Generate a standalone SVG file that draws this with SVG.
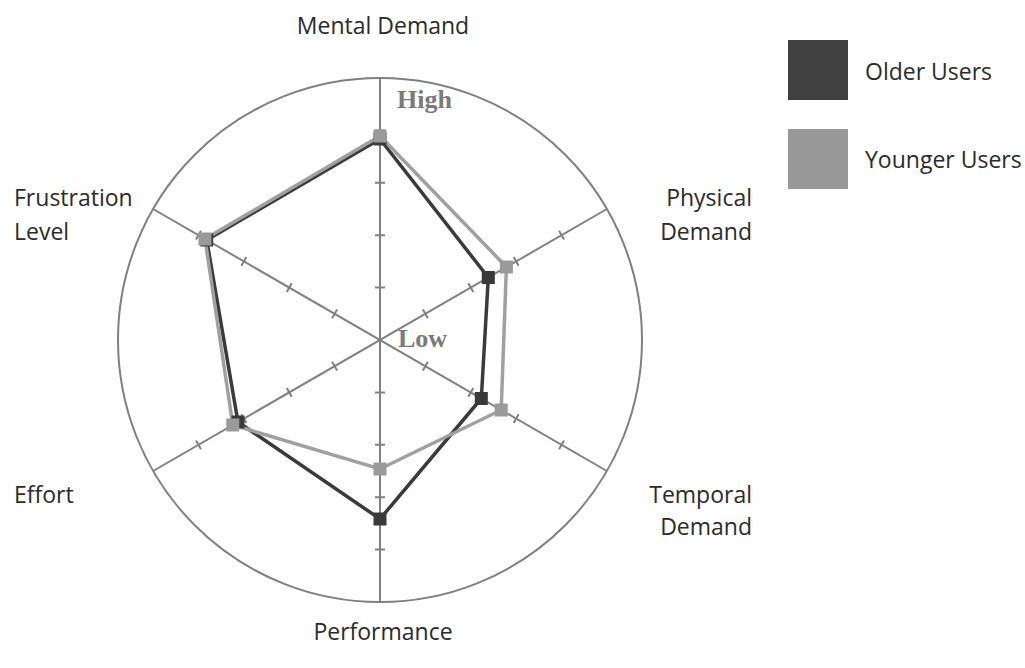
<svg xmlns="http://www.w3.org/2000/svg" xmlns:xlink="http://www.w3.org/1999/xlink" width="1025" height="668" viewBox="0 0 1025 668">
<style>
.lbl{font-family:"Open Sans","Liberation Sans",sans-serif;font-size:23px;fill:#2b2b2b}
.hl{font-family:"Liberation Serif",serif;font-weight:bold;font-size:26px;fill:#7a7a7a}
.grid{stroke:#808080;stroke-width:2;fill:none}
.older{stroke:#3a3a3a;stroke-width:3.5;fill:none;stroke-linejoin:miter}
.younger{stroke:#a0a0a0;stroke-width:3.5;fill:none;stroke-linejoin:miter}
.mo{fill:#3a3a3a}
.my{fill:#9a9a9a}
</style>
<defs>
<g id="axis" class="grid">
<line x1="380" y1="78" x2="380" y2="602"/>
<path d="M375 287.6H385M375 235.2H385M375 182.8H385M375 130.4H385M375 392.4H385M375 444.8H385M375 497.2H385M375 549.6H385"/>
</g>
<rect id="sq" x="-6.5" y="-6.5" width="13" height="13"/>
</defs>
<rect width="1025" height="668" fill="#ffffff"/>
<g id="grid">
<circle class="grid" cx="380" cy="340" r="262"/>
<use xlink:href="#axis"/>
<use xlink:href="#axis" transform="rotate(60 380 340)"/>
<use xlink:href="#axis" transform="rotate(-60 380 340)"/>
</g>
<g id="connectors">
<polygon class="older" points="380,139 488.3,277.5 481.3,398.5 380,519 238,422 206.7,240"/>
<polygon class="younger" points="380,136 506.4,267 501.2,410 380,469 232.8,425 205,239"/>
</g>
<g id="older-points" class="mo">
<use xlink:href="#sq" x="380" y="139"/>
<use xlink:href="#sq" x="488.3" y="277.5"/>
<use xlink:href="#sq" x="481.3" y="398.5"/>
<use xlink:href="#sq" x="380" y="519"/>
<use xlink:href="#sq" x="238" y="422"/>
<use xlink:href="#sq" x="206.7" y="240"/>
</g>
<g id="younger-points" class="my">
<use xlink:href="#sq" x="380" y="136"/>
<use xlink:href="#sq" x="506.4" y="267"/>
<use xlink:href="#sq" x="501.2" y="410"/>
<use xlink:href="#sq" x="380" y="469"/>
<use xlink:href="#sq" x="232.8" y="425"/>
<use xlink:href="#sq" x="205" y="239"/>
</g>
<g id="scale-labels">
<text class="hl" x="397" y="108">High</text>
<text class="hl" x="398" y="347">Low</text>
</g>
<g id="axis-labels">
<text id="mental" class="lbl" x="383" y="34" text-anchor="middle">Mental Demand</text>
<text id="physical" class="lbl" text-anchor="end"><tspan x="752" y="206">Physical</tspan><tspan x="752" y="240">Demand</tspan></text>
<text id="temporal" class="lbl" text-anchor="end"><tspan x="752" y="503">Temporal</tspan><tspan x="752" y="535">Demand</tspan></text>
<text id="performance" class="lbl" x="383" y="640" text-anchor="middle">Performance</text>
<text id="effort" class="lbl" x="14" y="503">Effort</text>
<text id="frustration" class="lbl"><tspan x="14" y="206">Frustration</tspan><tspan x="14" y="240">Level</tspan></text>
</g>
<g id="legend">
<g id="legend-older"><rect x="788" y="40" width="60" height="60" fill="#404040"/><text class="lbl" x="865" y="80">Older Users</text></g>
<g id="legend-younger"><rect x="788" y="129" width="60" height="60" fill="#999999"/><text class="lbl" x="865" y="168">Younger Users</text></g>
</g>
</svg>
